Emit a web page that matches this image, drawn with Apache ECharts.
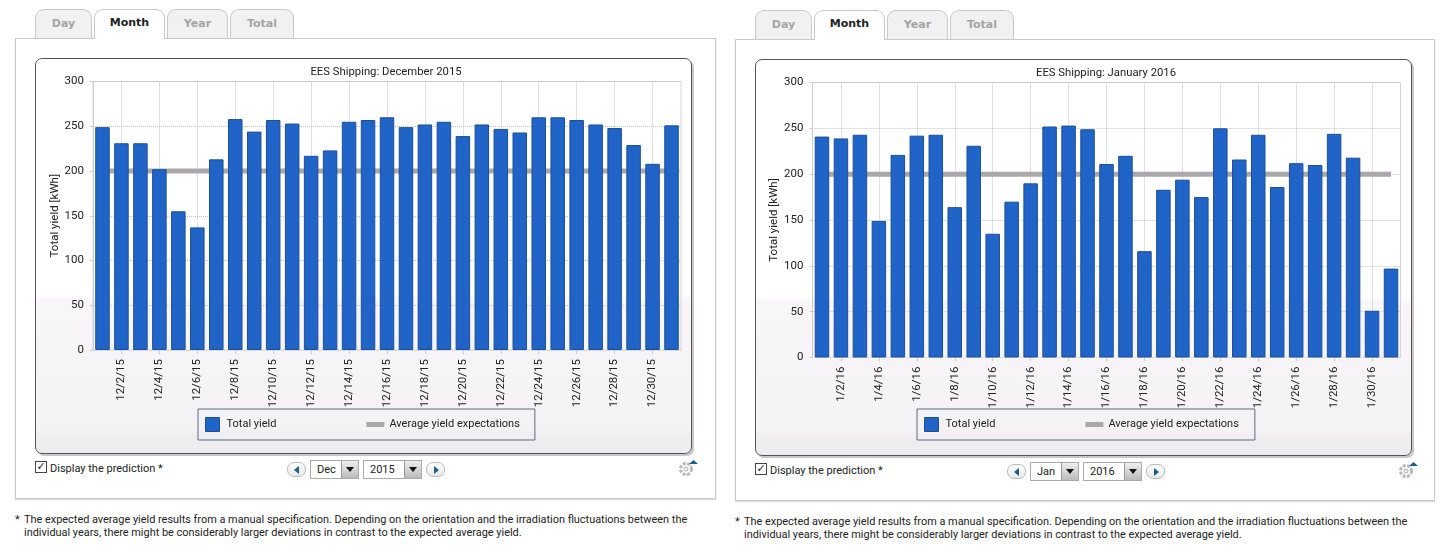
<!DOCTYPE html>
<html><head><meta charset="utf-8">
<script src="https://cdn.jsdelivr.net/npm/echarts@6/dist/echarts.min.js"></script>
<style>
html,body{margin:0;padding:0;background:#fff;width:1443px;height:559px;overflow:hidden;font-family:Roboto,"Noto Sans",sans-serif;color:#222}
.a{position:absolute;box-sizing:border-box}
#chart{position:absolute;left:0;top:0;width:1443px;height:559px;z-index:5}
.tab{border:1px solid #c8c8c8;border-bottom:none;border-radius:9px 9px 0 0;background:#f2f1f2;color:#a4a4a4;font:bold 11px "DejaVu Sans";text-align:center;padding-top:7px}
.tab.on{background:#fff;color:#222;z-index:3;padding-top:6px}
.panel{border:1px solid #c9c9c9;background:#fff;box-shadow:0 1px 1px #ddd}
.inner{border:1px solid #555;border-radius:7px;box-shadow:2px 2px 0 #c8c8c8;background:linear-gradient(#fff 0,#fff 60%,#f9f6fa 61%,#f5f2f6 94%,#efeef1 95%,#ecebee 100%)}
.t{font-size:11px;line-height:14px;white-space:nowrap;color:#222}
.foot{font-size:10.92px;line-height:13px;white-space:nowrap;color:#222}
.btn{border:1px solid #bbb;border-radius:7px;background:linear-gradient(#fff,#e8e8e8);width:19px;height:15px}
.arrL,.arrR{position:absolute;top:3px;width:0;height:0;border-top:4px solid transparent;border-bottom:4px solid transparent}
.arrL{left:6px;border-right:5px solid #1d5d8a}.arrR{left:7px;border-left:5px solid #1d5d8a}
.sel{border:1px solid #aaa;background:#fff;height:19px;font-size:11px;line-height:16px;padding:1px 0 0 6px}
.drop{position:absolute;right:0;top:0;width:16px;height:17px;background:linear-gradient(#eee,#bbb);border-left:1px solid #999}
.drop:after{content:"";position:absolute;left:4px;top:6px;border-left:4px solid transparent;border-right:4px solid transparent;border-top:5px solid #111}
.chk{width:12px;height:12px;border:1px solid #444;background:#fff;font:bold 11px "DejaVu Sans";line-height:10px;text-align:center}
</style></head><body>
<div id="chrome"></div>
<div id="chart"></div>
<script>
const decCategories=["12/1/15","12/2/15","12/3/15","12/4/15","12/5/15","12/6/15","12/7/15","12/8/15","12/9/15","12/10/15","12/11/15","12/12/15","12/13/15","12/14/15","12/15/15","12/16/15","12/17/15","12/18/15","12/19/15","12/20/15","12/21/15","12/22/15","12/23/15","12/24/15","12/25/15","12/26/15","12/27/15","12/28/15","12/29/15","12/30/15","12/31/15"];
const decYield=[249,231,231,202,155,137,213,258,244,257,253,217,223,255,257,260,249,252,255,239,252,247,243,260,260,257,252,248,229,208,251];
const decExpected=[200,200,200,200,200,200,200,200,200,200,200,200,200,200,200,200,200,200,200,200,200,200,200,200,200,200,200,200,200,200,200];
const janCategories=["1/1/16","1/2/16","1/3/16","1/4/16","1/5/16","1/6/16","1/7/16","1/8/16","1/9/16","1/10/16","1/11/16","1/12/16","1/13/16","1/14/16","1/15/16","1/16/16","1/17/16","1/18/16","1/19/16","1/20/16","1/21/16","1/22/16","1/23/16","1/24/16","1/25/16","1/26/16","1/27/16","1/28/16","1/29/16","1/30/16","1/31/16"];
const janYield=[241,239,243,149,221,242,243,164,231,135,170,190,252,253,249,211,220,116,183,194,175,250,216,243,186,212,210,244,218,51,97];
const janExpected=[200,200,200,200,200,200,200,200,200,200,200,200,200,200,200,200,200,200,200,200,200,200,200,200,200,200,200,200,200,200,200];
const yTicks=[0,50,100,150,200,250,300];

const FONT='Roboto';
function chrome(dx,dy,h,mon,yr,footY){
  let s='';
  const box=(c,l,t,w,hh,inner)=>`<div class="a ${c}" style="left:${l}px;top:${t}px;width:${w}px;height:${hh}px">${inner||''}</div>`;
  s+=box('panel',15+dx,38+dy,701-(dx?1:0),461+h);
  [['Day',35,57,0],['Month',94,71,1],['Year',167,61,0],['Total',230,64,0]].forEach(t=>{
    s+=box('tab'+(t[3]?' on':''),t[1]+dx,9+dy,t[2],t[3]?30:29,t[0]);
  });
  s+=box('inner',35+dx,58+dy,657,396+h);
  const cy=460+dy+h;
  s+=box('chk',35+dx,cy+1,12,12,'&#10003;');
  s+=`<div class="a t" style="left:${50+dx}px;top:${cy+2}px">Display the prediction *</div>`;
  s+=`<div class="a btn" style="left:${287+dx}px;top:${cy+2}px"><div class="arrL"></div></div>`;
  s+=`<div class="a sel" style="left:${310+dx}px;top:${cy}px;width:49px">${mon}<div class="drop"></div></div>`;
  s+=`<div class="a sel" style="left:${363+dx}px;top:${cy}px;width:59px">${yr}<div class="drop"></div></div>`;
  s+=`<div class="a btn" style="left:${426+dx}px;top:${cy+2}px"><div class="arrR"></div></div>`;
  s+=`<svg class="a" style="left:${678+dx}px;top:${cy-1}px" width="20" height="20" viewBox="0 0 20 20"><circle cx="8" cy="10" r="5.5" fill="none" stroke="#b9b9b9" stroke-width="3" stroke-dasharray="3 1.4"/><circle cx="8" cy="10" r="2" fill="none" stroke="#aaa"/><path d="M11 5 L15.5 1 L20 5Z" fill="#1d5d8a"/></svg>`;
  s+=`<div class="a foot" style="left:${15+dx}px;top:${footY}px">*</div>`;
  s+=`<div class="a foot" style="left:${24+dx}px;top:${footY}px">The expected average yield results from a manual specification. Depending on the orientation and the irradiation fluctuations between the<br>individual years, there might be considerably larger deviations in contrast to the expected average yield.</div>`;
  return s;
}
document.getElementById('chrome').innerHTML=chrome(0,0,0,'Dec','2015',513)+chrome(720,1,1,'Jan','2016',515);

const chart=echarts.init(document.getElementById('chart'),null,{renderer:'canvas'});
const odd=(i)=>i%2===1;
function xAxis(idx,cats){return{type:'category',gridIndex:idx,data:cats,boundaryGap:true,
  axisLine:{show:true,lineStyle:{color:'#ddd'}},
  axisTick:{show:true,alignWithLabel:true,interval:odd,length:4,lineStyle:{color:'#ccc'}},
  axisLabel:{interval:odd,rotate:90,color:'#222',fontFamily:FONT,fontSize:11.5,margin:9},
  splitLine:{show:true,alignWithLabel:true,interval:odd,lineStyle:{color:'#c4c4c4',type:'dotted',width:1}}};}
function yAxis(idx){return{type:'value',gridIndex:idx,min:yTicks[0],max:yTicks[yTicks.length-1],interval:yTicks[1]-yTicks[0],
  name:'Total yield [kWh]',nameLocation:'middle',nameGap:30,nameRotate:90,
  nameTextStyle:{color:'#222',fontFamily:FONT,fontSize:11.5},
  axisLine:{show:true,lineStyle:{color:'#ccc'}},axisTick:{show:true,length:3,lineStyle:{color:'#ccc'}},
  axisLabel:{color:'#222',fontFamily:FONT,fontSize:11.5,margin:9},
  splitLine:{show:true,lineStyle:{color:'#c4c4c4',type:'dotted',width:1}}};}
function barS(idx,d){return{name:'Total yield',type:'bar',xAxisIndex:idx,yAxisIndex:idx,data:d,barWidth:14.5,z:3,
  itemStyle:{color:'#2064c8',borderColor:'#1c4f98',borderWidth:1}};}
function lineS(idx,d){return{name:'Average yield expectations',type:'line',xAxisIndex:idx,yAxisIndex:idx,data:d,symbol:'none',z:2,silent:true,
  lineStyle:{color:'#aba8ab',width:5},itemStyle:{color:'#aba8ab'}};}
function legend(left,top,pr){return{left,top,orient:'horizontal',padding:[8,pr,8,7],itemGap:90,itemWidth:18,itemHeight:14,
  backgroundColor:'rgba(0,0,0,0)',borderColor:'#5b6a85',borderWidth:1,selectedMode:false,
  textStyle:{color:'#222',fontFamily:FONT,fontSize:11},
  data:[{name:'Total yield',icon:'path://M0 0H14V14H0Z',itemStyle:{color:'#2064c8',borderColor:'#1c4f98',borderWidth:1}},
        {name:'Average yield expectations',icon:'path://M0 0H18V5H0Z',itemStyle:{color:'#aba8ab'}}]};}
function title(text,cx,top){return{text,left:cx,top,textAlign:'center',textStyle:{color:'#222',fontFamily:FONT,fontSize:11.3,fontWeight:'normal'},padding:0};}
chart.setOption({
  animation:false,
  title:[title('EES Shipping: December 2015',386,67),title('EES Shipping: January 2016',1106,68)],
  legend:[legend(198,409,15),legend(917,409,16)],
  grid:[{show:true,backgroundColor:'transparent',borderColor:'#d4d4d4',borderWidth:1,left:93,top:81.5,width:588,height:268.5},
        {show:true,backgroundColor:'transparent',borderColor:'#d4d4d4',borderWidth:1,left:812.5,top:82.5,width:588,height:275}],
  xAxis:[xAxis(0,decCategories),xAxis(1,janCategories)],
  yAxis:[yAxis(0),yAxis(1)],
  series:[barS(0,decYield),lineS(0,decExpected),barS(1,janYield),lineS(1,janExpected)]
});
</script>
</body></html>
